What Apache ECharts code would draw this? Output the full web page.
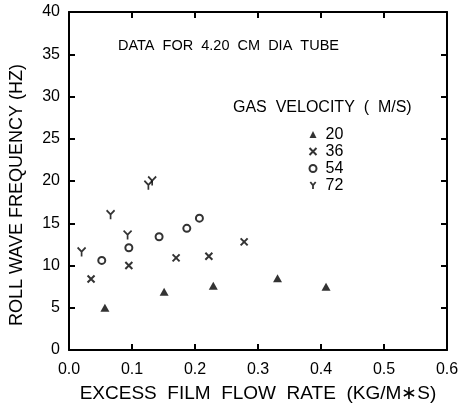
<!DOCTYPE html>
<html><head><meta charset="utf-8">
<script src="https://cdn.jsdelivr.net/npm/echarts@6/dist/echarts.min.js"></script>
<style>html,body{margin:0;padding:0;background:#fff}#c{width:462px;height:411px}</style>
</head><body><div id="c"></div>
<script>
var xTicks = [0.0, 0.1, 0.2, 0.3, 0.4, 0.5, 0.6];
var yTicks = [0, 5, 10, 15, 20, 25, 30, 35, 40];
var seriesNames = ['20', '36', '54', '72'];
var x20 = [0.057, 0.151, 0.229, 0.331, 0.408];
var y20 = [5.0, 6.9, 7.6, 8.5, 7.5];
var x36 = [0.035, 0.095, 0.170, 0.222, 0.278];
var y36 = [8.4, 10.0, 10.9, 11.1, 12.8];
var x54 = [0.052, 0.095, 0.143, 0.187, 0.207];
var y54 = [10.6, 12.1, 13.4, 14.4, 15.6];
var x72 = [0.020, 0.066, 0.093, 0.126, 0.132];
var y72 = [11.6, 16.0, 13.6, 19.5, 20.0];

function pairs(xs, ys){ return xs.map(function(x,i){ return [x, ys[i]]; }); }
var FONT = 'Liberation Sans';
var chart = echarts.init(document.getElementById('c'));
function axisCommon(){
  return {
    axisLine:{show:true, onZero:false, lineStyle:{color:'#000', width:2}},
    axisTick:{show:true, inside:true, length:6, lineStyle:{color:'#000', width:2}},
    splitLine:{show:false}
  };
}
var symbols = {
  '20': 'triangle',
  '36': 'path://M0,0L10,10M10,0L0,10',
  '54': 'circle',
  '72': 'path://M0,0L5,6L10,0M5,6L5,13'
};
var styles = {
  '20': {color:'#000', borderColor:'#000', borderWidth:0},
  '36': {color:'none', borderColor:'#000', borderWidth:2},
  '54': {color:'#fff', borderColor:'#000', borderWidth:2},
  '72': {color:'none', borderColor:'#000', borderWidth:1.8}
};
var sizes = {'20':[9,8], '36':[7,7], '54':[7,7], '72':[8,9]};
var dataMap = {'20':pairs(x20,y20), '36':pairs(x36,y36), '54':pairs(x54,y54), '72':pairs(x72,y72)};

chart.setOption({
  animation:false,
  backgroundColor:'#fff',
  grid:{left:69, right:15, top:12, bottom:61},
  xAxis:[
    Object.assign({type:'value', position:'bottom', min:xTicks[0], max:xTicks[xTicks.length-1], interval:0.1,
      axisLabel:{color:'#000', fontFamily:FONT, fontSize:16, margin:12, formatter:function(v){return v.toFixed(1);}},
      name:'EXCESS  FILM  FLOW  RATE  (KG/M\u2217S)', nameLocation:'middle', nameGap:34,
      nameTextStyle:{color:'#000', fontFamily:FONT, fontSize:19}}, axisCommon()),
    Object.assign({type:'value', position:'top', min:xTicks[0], max:xTicks[xTicks.length-1], interval:0.1,
      axisLabel:{show:false}}, axisCommon())
  ],
  yAxis:[
    Object.assign({type:'value', position:'left', min:yTicks[0], max:yTicks[yTicks.length-1], interval:5,
      axisLabel:{color:'#000', fontFamily:FONT, fontSize:16, margin:9}}, axisCommon()),
    Object.assign({type:'value', position:'right', min:yTicks[0], max:yTicks[yTicks.length-1], interval:5,
      axisLabel:{show:false}}, axisCommon())
  ],
  legend:{
    orient:'vertical', left:302, top:121, itemWidth:7, itemHeight:7, itemGap:0,
    textStyle:{color:'#000', fontFamily:FONT, fontSize:16, lineHeight:17, padding:[0,0,0,4]},
    data:seriesNames.map(function(n){ return {name:n, icon:symbols[n], itemStyle:styles[n]}; })
  },
  graphic:[
    {type:'text', left:118, top:38, style:{text:'DATA  FOR  4.20  CM  DIA  TUBE', fill:'#000', font:'14.5px "Liberation Sans"'}},
    {type:'text', left:233, top:100, style:{text:'GAS  VELOCITY  (  M/S)', fill:'#000', font:'16px "Liberation Sans"'}},
    {type:'text', left:8, top:64, rotation:Math.PI/2, originX:0, originY:0,
     style:{text:'ROLL WAVE FREQUENCY (HZ)', fill:'#000', font:'18px "Liberation Sans"'}}
  ],
  series: seriesNames.map(function(n){
    return {name:n, type:'scatter', data:dataMap[n], symbol:symbols[n], symbolSize:sizes[n], itemStyle:styles[n]};
  })
});
</script></body></html>
